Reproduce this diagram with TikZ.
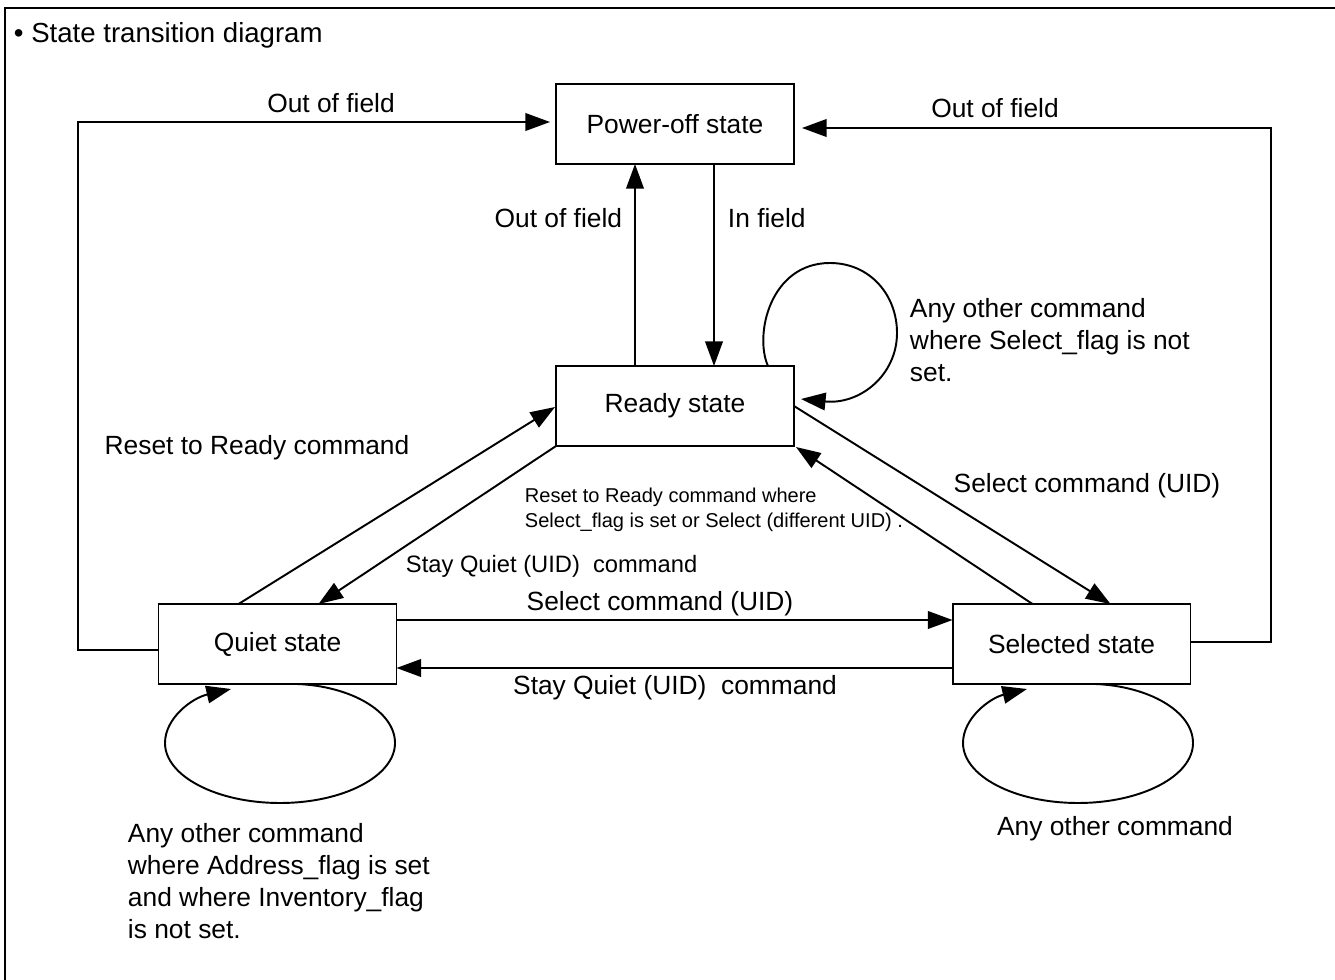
\documentclass[tikz,border=0pt]{standalone}
\usepackage{fontspec}
\setmainfont{Liberation Sans}
\usetikzlibrary{arrows.meta,calc}
\begin{document}
\begin{tikzpicture}[x=0.02cm,y=-0.02cm,
  line width=1.1pt,
  statebox/.style={draw,rectangle,minimum width=4.76cm,minimum height=1.6cm,inner sep=0pt,outer sep=0pt,font=\fontsize{15}{18}\selectfont},
  lbl/.style={inner sep=0pt,font=\fontsize{15}{18}\selectfont},
  lblmid/.style={inner sep=0pt,font=\fontsize{13.5}{16}\selectfont},
  lblsmall/.style={inner sep=0pt,align=left,font=\fontsize{11.4}{14.2}\selectfont},
  arr/.style={-{Triangle[length=14pt,width=10pt]}}]
\useasboundingbox (0,0) rectangle (1335,980);
\draw[line width=1.5pt] (5,980) -- (5,8) -- (1335,8);
\node[lbl,anchor=west,font=\fontsize{15.7}{18}\selectfont] (title) at (13,35) {• State transition diagram};

\node[statebox] (p) at (675,124) {Power-off state};
\node[statebox] (r) at (675,406) {Ready state};
\node[statebox] (q) at (277.5,644) {Quiet state};
\node[statebox] (s) at (1071.5,644) {Selected state};

% outer out-of-field paths
\coordinate (l1) at (78,650);
\coordinate (l2) at (78,122);
\coordinate (r1) at (1271,642);
\coordinate (r2) at (1271,128);
\draw[arr] ($(q.west)+(0,6)$) -- (l1) -- (l2) -- ($(p.west)+(-6,-2)$);
\draw[arr] ($(s.east)+(0,-2)$) -- (r1) -- (r2) -- ($(p.east)+(8,4)$);
\node[lbl] (lo1) at (331,103) {Out of field};
\node[lbl] (lo2) at (995,108) {Out of field};

% power-off <-> ready
\draw[arr] ($(r.north)+(-40,0)$) -- ($(p.south)+(-40,0)$);
\draw[arr] ($(p.south)+(39,0)$) -- ($(r.north)+(39,0)$);
\node[lbl,anchor=east] (lo3) at (623,218) {Out of field};
\node[lbl,anchor=west] (lin) at (727,218) {In field};

% ready self loop
\draw[arr] ($(r.north)+(93,0)$) .. controls (754,335) and (770,263) .. (830,263)
  .. controls (870,263) and (897,295) .. (897,333)
  .. controls (897,375) and (860,405) .. ($(r.east)+(7,-7)$);
\node[lbl,anchor=west,align=left,font=\fontsize{15}{18.4}\selectfont] (lrl) at (909,340) {Any other command\\where Select\_flag is not\\set.};

% quiet <-> ready
\draw[arr] ($(q.north west)+(80,0)$) -- ($(r.west)+(-1,1)$);
\draw[arr] (r.south west) -- ($(q.north west)+(160,0)$);
\node[lbl] (lrr) at (257,448) {Reset to Ready command};
\node[lblmid,anchor=west] (lsq1) at (405,566) {Stay Quiet (UID)\ \ command};

% ready <-> selected
\draw[arr] (r.east) -- ($(s.north west)+(158,0)$);
\draw[arr] ($(s.north west)+(80,0)$) -- ($(r.south east)+(2,1)$);
\node[lbl] (lsel1) at (1087,486) {Select command (UID)};
\node[lblsmall,anchor=west] (lrst) at (524,510) {Reset to Ready command where\\Select\_flag is set or Select (different UID) .};

% quiet <-> selected
\draw[arr] ($(q.east)+(0,-24)$) -- ($(s.west)+(0,-24)$);
\draw[arr] ($(s.west)+(0,24)$) -- ($(q.east)+(0,24)$);
\node[lbl] (lsel2) at (660,604) {Select command (UID)};
\node[lbl] (lsq2) at (675,688) {Stay Quiet (UID)\ \ command};

% quiet self loop
\draw[arr] ($(q.south)+(19.5,0)$) .. controls (350,686) and (395,711) .. (395,743)
  .. controls (395,776) and (343.5,803) .. (280,803)
  .. controls (216.5,803) and (165,776) .. (165,743)
  .. controls (165,718) and (192,698) .. (231,689);
\node[lbl,anchor=west,align=left,font=\fontsize{15}{18.2}\selectfont] (lql) at (127,881) {Any other command\\where Address\_flag is set\\and where Inventory\_flag\\is not set.};

% selected self loop
\draw[arr] ($(s.south)+(23.5,0)$) .. controls (1148,686) and (1193,711) .. (1193,743)
  .. controls (1193,776) and (1141.5,803) .. (1078,803)
  .. controls (1014.5,803) and (963,776) .. (963,743)
  .. controls (963,718) and (990,698) .. (1027,689);
\node[lbl] (lsl) at (1115,829) {Any other command};
\end{tikzpicture}
\end{document}
